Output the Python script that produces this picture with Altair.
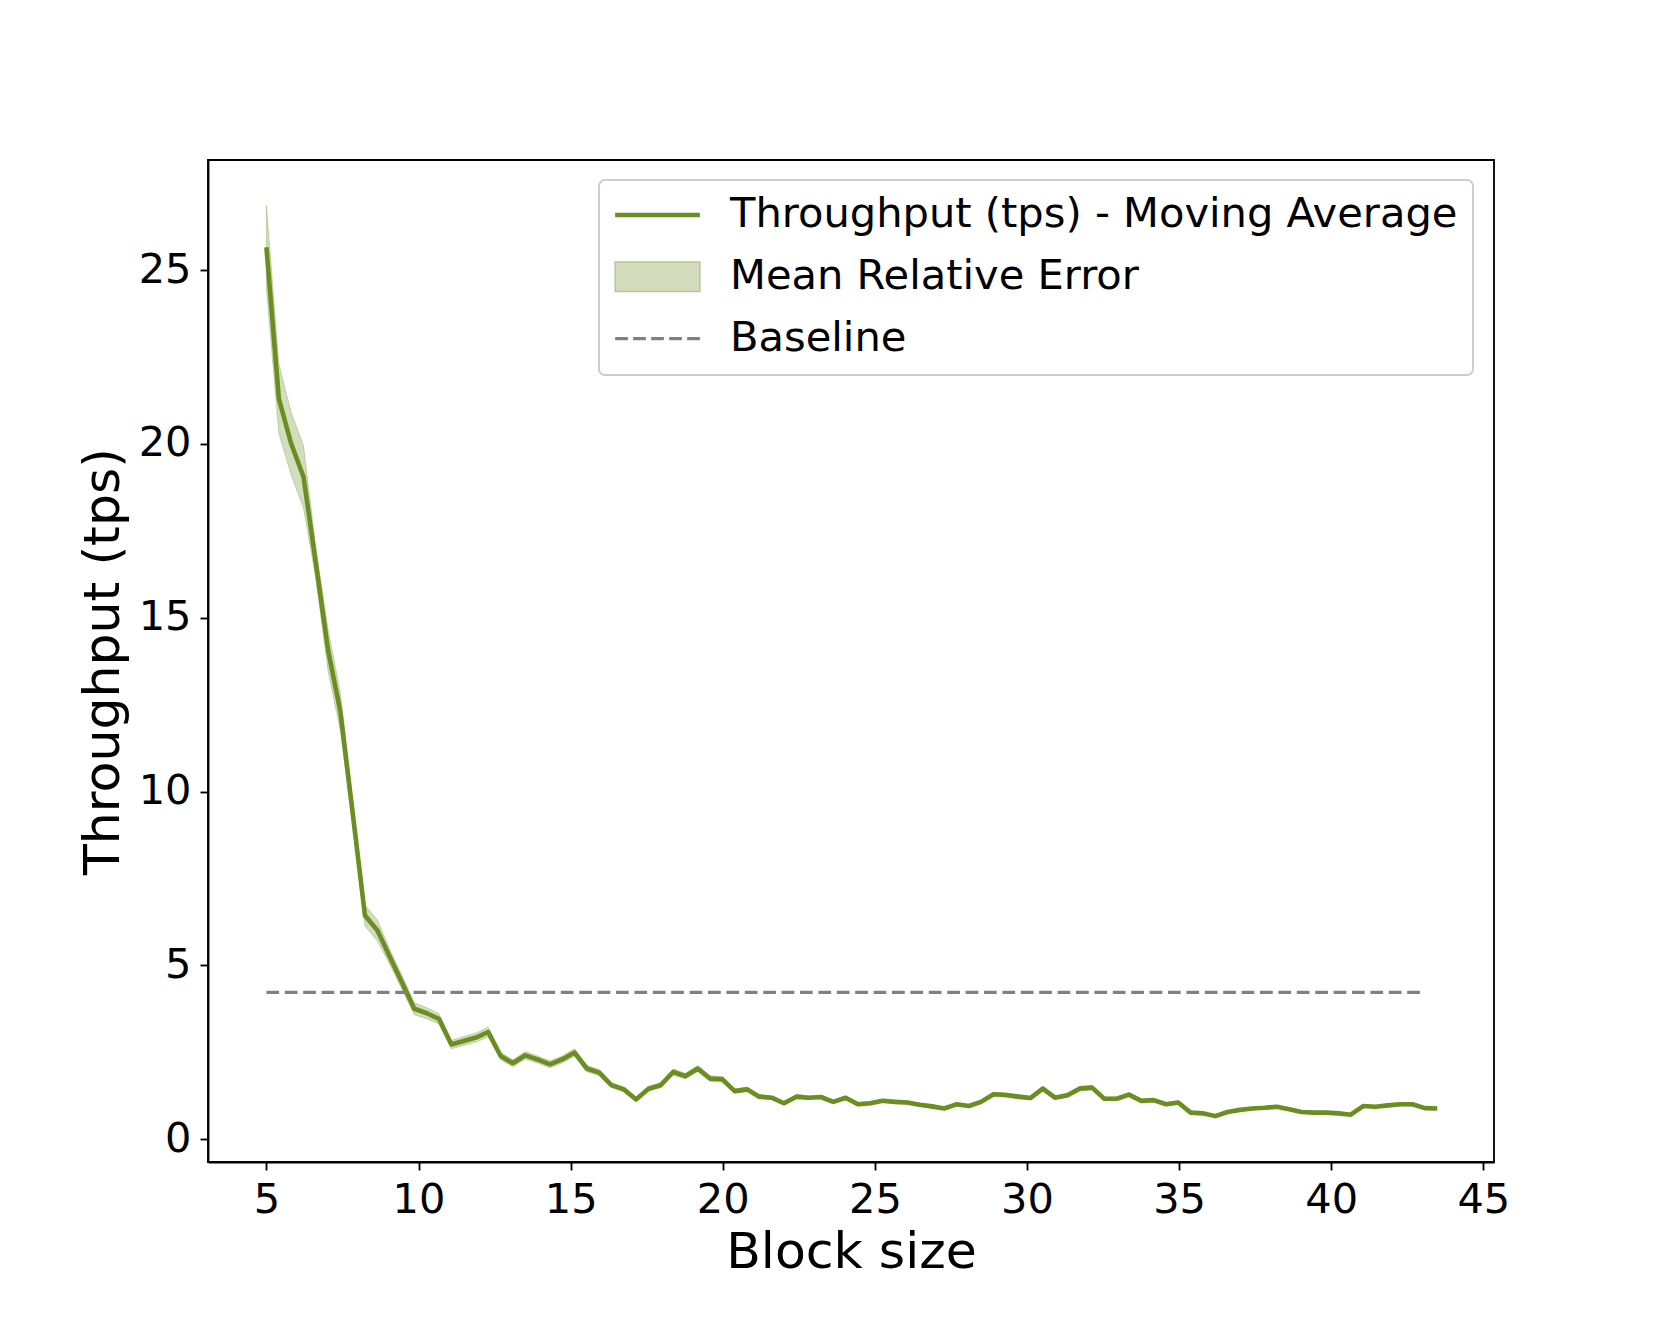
import altair as alt
import pandas as pd

# ---- data ----
block_size = [
    5.00, 5.41, 5.81, 6.22, 6.62, 7.03, 7.43, 7.84, 8.24, 8.65,
    9.05, 9.46, 9.86, 10.27, 10.67, 11.08, 11.48, 11.89, 12.29, 12.70,
    13.10, 13.51, 13.91, 14.32, 14.72, 15.13, 15.53, 15.94, 16.34, 16.75,
    17.15, 17.56, 17.96, 18.37, 18.77, 19.18, 19.58, 19.99, 20.39, 20.80,
    21.20, 21.61, 22.01, 22.42, 22.82, 23.23, 23.63, 24.04, 24.44, 24.85,
    25.25, 25.66, 26.06, 26.47, 26.87, 27.28, 27.68, 28.09, 28.49, 28.90,
    29.30, 29.71, 30.11, 30.52, 30.92, 31.33, 31.73, 32.14, 32.54, 32.95,
    33.35, 33.76, 34.16, 34.57, 34.97, 35.38, 35.78, 36.19, 36.59, 37.00,
    37.40, 37.81, 38.21, 38.62, 39.02, 39.43, 39.83, 40.24, 40.64, 41.05,
    41.45, 41.86, 42.26, 42.67, 43.07, 43.48,
]
throughput = [
    25.66, 21.30, 20.02, 19.05, 16.60, 14.05, 12.30, 9.35, 6.43, 6.00,
    5.25, 4.50, 3.75, 3.62, 3.46, 2.72, 2.82, 2.92, 3.08, 2.39,
    2.18, 2.41, 2.29, 2.15, 2.29, 2.49, 2.03, 1.91, 1.55, 1.43,
    1.14, 1.45, 1.55, 1.93, 1.81, 2.03, 1.74, 1.72, 1.38, 1.43,
    1.22, 1.19, 1.03, 1.22, 1.19, 1.21, 1.07, 1.19, 1.00, 1.03,
    1.10, 1.07, 1.05, 0.99, 0.94, 0.88, 1.00, 0.95, 1.07, 1.29,
    1.27, 1.22, 1.18, 1.45, 1.19, 1.26, 1.45, 1.48, 1.16, 1.16,
    1.28, 1.10, 1.12, 1.00, 1.05, 0.76, 0.74, 0.66, 0.78, 0.84,
    0.88, 0.90, 0.93, 0.86, 0.78, 0.76, 0.76, 0.74, 0.70, 0.95,
    0.93, 0.97, 1.00, 1.00, 0.89, 0.88,
]
error = [
    1.20, 1.00, 0.90, 0.90, 0.45, 0.60, 0.55, 0.35, 0.30, 0.30,
    0.22, 0.20, 0.17, 0.16, 0.15, 0.12, 0.13, 0.13, 0.14, 0.11,
    0.10, 0.11, 0.10, 0.10, 0.10, 0.11, 0.09, 0.09, 0.07, 0.07,
    0.06, 0.07, 0.07, 0.09, 0.08, 0.09, 0.08, 0.08, 0.06, 0.07,
    0.06, 0.05, 0.05, 0.06, 0.05, 0.05, 0.05, 0.05, 0.05, 0.05,
    0.05, 0.05, 0.05, 0.05, 0.05, 0.04, 0.05, 0.04, 0.05, 0.06,
    0.06, 0.06, 0.05, 0.07, 0.05, 0.06, 0.07, 0.07, 0.05, 0.05,
    0.06, 0.05, 0.05, 0.05, 0.05, 0.04, 0.04, 0.03, 0.04, 0.04,
    0.04, 0.04, 0.04, 0.04, 0.04, 0.04, 0.04, 0.04, 0.03, 0.04,
    0.04, 0.04, 0.05, 0.05, 0.04, 0.04,
]
baseline_value = [4.22]
baseline_start = [5.0]
baseline_end = [43.0]

x_ticks = [5, 10, 15, 20, 25, 30, 35, 40, 45]
y_ticks = [0, 5, 10, 15, 20, 25]

legend_labels = ["Throughput (tps) - Moving Average", "Mean Relative Error", "Baseline"]

OLIVE = "#6b8e23"
BAND_LEGEND = "#d3ddbd"
BAND_EDGE = "#b5c993"
GRAY = "#808080"
FONT = "DejaVu Sans"

# legend symbol shapes (unit box -1..1)
shape_line = "M-1,-0.055 L1,-0.055 L1,0.055 L-1,0.055 Z"
shape_patch = "M-1,-0.35 L1,-0.35 L1,0.35 L-1,0.35 Z"
shape_dash = (
    "M-1,-0.037 L-0.7,-0.037 L-0.7,0.037 L-1,0.037 Z "
    "M-0.575,-0.037 L-0.275,-0.037 L-0.275,0.037 L-0.575,0.037 Z "
    "M-0.15,-0.037 L0.15,-0.037 L0.15,0.037 L-0.15,0.037 Z "
    "M0.275,-0.037 L0.575,-0.037 L0.575,0.037 L0.275,0.037 Z "
    "M0.7,-0.037 L1,-0.037 L1,0.037 L0.7,0.037 Z"
)

df = pd.DataFrame({"x": block_size, "y": throughput, "err": error})
df["lo"] = df["y"] - df["err"]
df["hi"] = df["y"] + df["err"]

base_df = pd.DataFrame({"x0": baseline_start, "x1": baseline_end, "b": baseline_value})
legend_df = pd.DataFrame({"series": legend_labels})

xscale = alt.Scale(domain=[3.08, 45.35], nice=False, zero=False)
yscale = alt.Scale(domain=[-0.66, 28.17], nice=False, zero=False)

xaxis = alt.Axis(values=x_ticks, title="Block size", grid=False, format="d")
yaxis = alt.Axis(values=y_ticks, title="Throughput (tps)", grid=False, format="d")

band = alt.Chart(df).mark_area(
    color=OLIVE, fillOpacity=0.3, stroke=OLIVE, strokeOpacity=0.3, strokeWidth=1
).encode(
    x=alt.X("x:Q", scale=xscale, axis=xaxis),
    y=alt.Y("lo:Q", scale=yscale, axis=yaxis),
    y2="hi:Q",
)

line = alt.Chart(df).mark_line(color=OLIVE, strokeWidth=4.6, strokeJoin="round").encode(
    x=alt.X("x:Q", scale=xscale, axis=xaxis),
    y=alt.Y("y:Q", scale=yscale, axis=yaxis),
)

rule = alt.Chart(base_df).mark_rule(color=GRAY, strokeWidth=3.2, strokeDash=[12.7, 5.7]).encode(
    x=alt.X("x0:Q", scale=xscale, axis=xaxis),
    x2="x1:Q",
    y=alt.Y("b:Q", scale=yscale, axis=yaxis),
)

leg = alt.Legend(
    title=None, orient="none", legendX=391, legendY=20, padding=15,
    strokeColor="#cccccc", fillColor="white", cornerRadius=6,
    labelFont=FONT, labelFontSize=41.6, labelColor="black", labelOffset=29,
    labelLimit=2000, symbolSize=7174, symbolStrokeWidth=1.5, symbolOpacity=1,
    clipHeight=40, rowPadding=19.8,
)

legend_layer = alt.Chart(legend_df).mark_point(opacity=0, filled=True).encode(
    color=alt.Color("series:N", scale=alt.Scale(domain=legend_labels, range=[OLIVE, BAND_LEGEND, GRAY]), legend=leg),
    stroke=alt.Stroke("series:N", scale=alt.Scale(domain=legend_labels, range=["transparent", BAND_EDGE, "transparent"]), legend=leg),
    shape=alt.Shape("series:N", scale=alt.Scale(domain=legend_labels, range=[shape_line, shape_patch, shape_dash]), legend=leg),
)

chart = alt.layer(band, line, rule, legend_layer).properties(
    width=1286, height=1002,
    autosize=alt.AutoSizeParams(type="none"),
    padding={"left": 200, "top": 152, "right": 150, "bottom": 150},
).configure_view(
    stroke="black", strokeWidth=1.85
).configure_legend(
    strokeWidth=1.85
).configure_axis(
    labelFont=FONT, titleFont=FONT, labelFontSize=41.5, titleFontSize=50.5,
    titleFontWeight="normal", labelColor="black", titleColor="black",
    tickColor="black", tickWidth=1.85, tickSize=8, domainColor="black", domainWidth=1.85,
).configure_axisX(
    labelPadding=9, titlePadding=7,
).configure_axisY(
    labelPadding=9, titlePadding=9,
)

chart.save("out.html", embed_options={"renderer": "svg", "actions": False})
